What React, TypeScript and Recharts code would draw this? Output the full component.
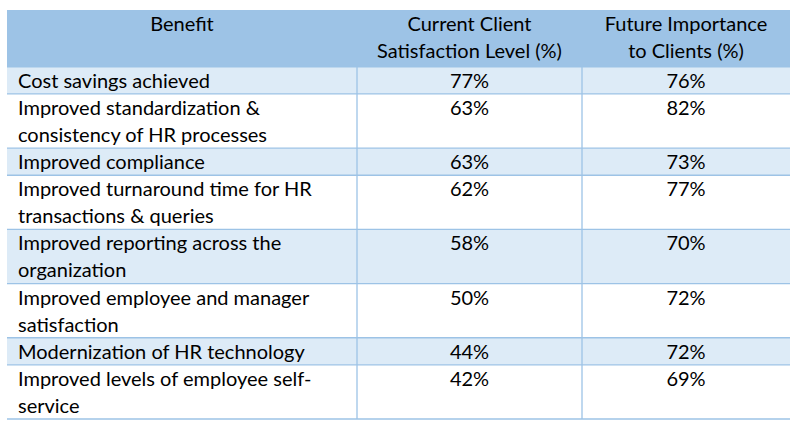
import { ComposedChart, XAxis, YAxis, Scatter, ReferenceArea, ReferenceLine } from 'recharts'

const COLUMN_TITLES = [['Benefit'], ['Current Client', 'Satisfaction Level (%)'], ['Future Importance', 'to Clients (%)']]

const BENEFITS = [
  'Cost savings achieved',
  'Improved standardization &\nconsistency of HR processes',
  'Improved compliance',
  'Improved turnaround time for HR\ntransactions & queries',
  'Improved reporting across the\norganization',
  'Improved employee and manager\nsatisfaction',
  'Modernization of HR technology',
  'Improved levels of employee self-\nservice',
]

const CURRENT = [77, 63, 63, 62, 58, 50, 44, 42]
const FUTURE = [76, 82, 73, 77, 70, 72, 72, 69]

const W = 801
const H = 437
const FONT = 'Lato, sans-serif'
const FONT_SIZE = 20
const HEADER_FILL = '#9dc3e6'
const BAND_FILL = '#ddebf7'
const BORDER = '#9dc3e6'

// table coordinates: x in px across the table, y in "text lines"
const COL_EDGES = [0, 350, 575, 783]
const HEADER_SPAN = 2.1

const rowLines = BENEFITS.map((b) => b.split('\n').length)
const rowStarts: number[] = []
rowLines.reduce((acc, n) => {
  rowStarts.push(acc)
  return acc + n
}, HEADER_SPAN)
const TOTAL = HEADER_SPAN + rowLines.reduce((a, b) => a + b, 0)

const colMid = (i: number) => (COL_EDGES[i] + COL_EDGES[i + 1]) / 2

type Cell = { x: number; y: number; lines: string[]; anchor: 'start' | 'middle' }

const headerCells: Cell[] = COLUMN_TITLES.map((t, i) => ({ x: colMid(i), y: 0, lines: t, anchor: 'middle' }))
const benefitCells: Cell[] = BENEFITS.map((b, i) => ({ x: 11, y: rowStarts[i], lines: b.split('\n'), anchor: 'start' }))
const currentCells: Cell[] = CURRENT.map((v, i) => ({ x: colMid(1), y: rowStarts[i], lines: [`${v}%`], anchor: 'middle' }))
const futureCells: Cell[] = FUTURE.map((v, i) => ({ x: colMid(2), y: rowStarts[i], lines: [`${v}%`], anchor: 'middle' }))

const CellText = (props: any) => {
  const { cx, cy, payload } = props
  return (
    <text x={cx} y={cy + 21} textAnchor={payload.anchor} fontFamily={FONT} fontSize={FONT_SIZE} fill="#000">
      {payload.lines.map((l: string, i: number) => (
        <tspan key={i} x={cx} dy={i === 0 ? 0 : 27}>
          {l}
        </tspan>
      ))}
    </text>
  )
}

export default function App() {
  return (
    <div style={{ position: 'absolute', left: 0, top: 0, width: W, height: H, background: '#fff' }}>
      <ComposedChart width={W} height={H} margin={{ top: 10, right: 11, bottom: 18, left: 7 }}>
        <XAxis type="number" dataKey="x" domain={[0, COL_EDGES[3]]} hide />
        <YAxis type="number" dataKey="y" domain={[0, TOTAL]} reversed hide />
        <ReferenceArea x1={0} x2={COL_EDGES[3]} y1={0} y2={HEADER_SPAN} fill={HEADER_FILL} fillOpacity={1} stroke="none" />
        {rowStarts.map((s, i) =>
          i % 2 === 0 ? (
            <ReferenceArea key={i} x1={0} x2={COL_EDGES[3]} y1={s} y2={s + rowLines[i]} fill={BAND_FILL} fillOpacity={1} stroke="none" />
          ) : null
        )}
        {[...rowStarts, TOTAL].map((s, i) => (
          <ReferenceLine key={'h' + i} y={s} stroke={BORDER} strokeWidth={1.3} />
        ))}
        {[COL_EDGES[1], COL_EDGES[2]].map((x) => (
          <ReferenceLine key={'v' + x} segment={[{ x, y: HEADER_SPAN }, { x, y: TOTAL }]} stroke={BORDER} strokeWidth={1.3} />
        ))}
        <Scatter data={headerCells} shape={CellText} isAnimationActive={false} />
        <Scatter data={benefitCells} shape={CellText} isAnimationActive={false} />
        <Scatter data={currentCells} shape={CellText} isAnimationActive={false} />
        <Scatter data={futureCells} shape={CellText} isAnimationActive={false} />
      </ComposedChart>
    </div>
  )
}
